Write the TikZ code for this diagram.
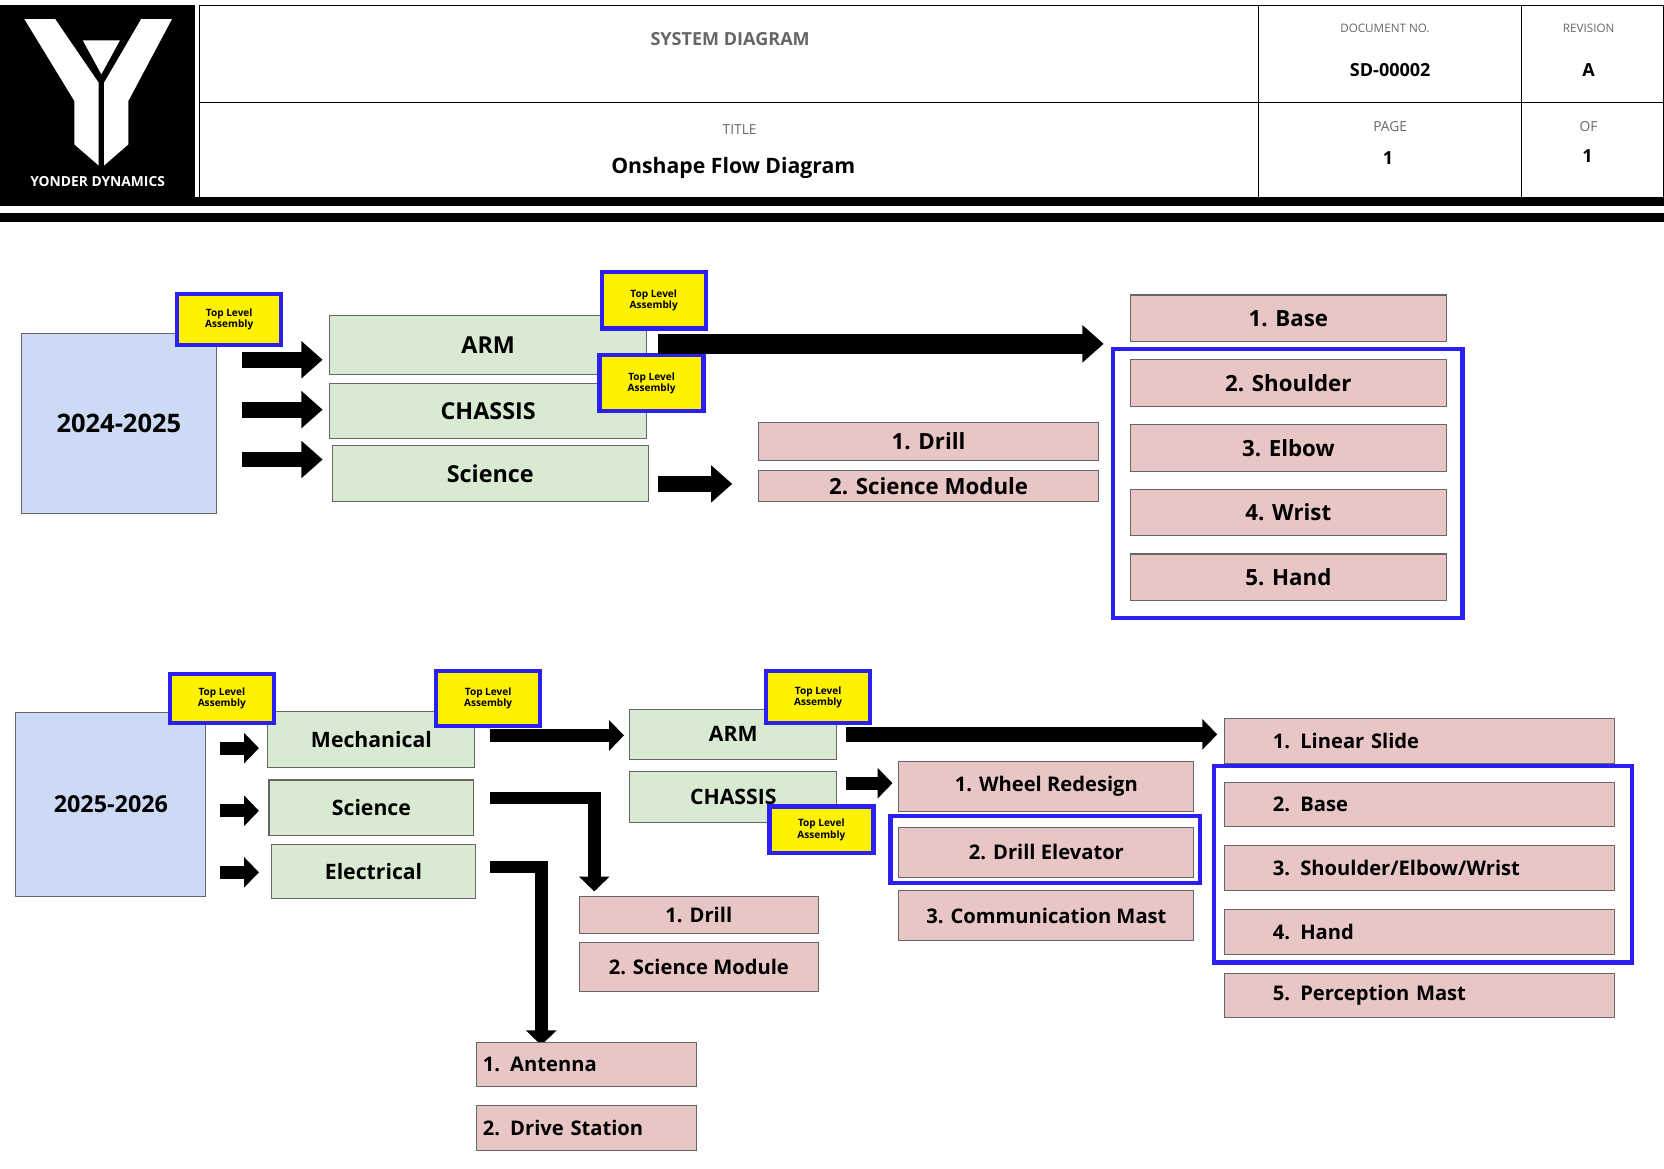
\documentclass[tikz,border=0pt]{standalone}
\usepackage{fontspec}
\setmainfont{Open Sans}
\usetikzlibrary{arrows.meta,positioning}
\definecolor{yearblue}{HTML}{CCDAF5}
\definecolor{subgreen}{HTML}{D9EAD3}
\definecolor{partpink}{HTML}{E8C6C6}
\definecolor{frameblue}{HTML}{2B1FF2}
\definecolor{headgray}{HTML}{666666}
\tikzset{
  box/.style={draw=black!60, line width=1pt, font=\bfseries, inner sep=0pt},
  year/.style={box, fill=yearblue, font=\bfseries\fontsize{24}{26}\selectfont},
  sub/.style={box, fill=subgreen, font=\bfseries\fontsize{22}{24}\selectfont},
  part/.style={box, fill=partpink, font=\bfseries\fontsize{21}{24}\selectfont},
  badge/.style={draw=frameblue, line width=4pt, fill=yellow, align=center,
    font=\bfseries\fontsize{9.5}{10.5}\selectfont, minimum width=98, minimum height=48},
  group/.style={draw=frameblue, line width=4pt},
  flow/.style={line width=15pt, -{Triangle[length=20pt,width=34pt]}},
  smallflow/.style={line width=12pt, -{Triangle[length=14pt,width=28pt]}},
  hlabel/.style={text=headgray, font=\fontsize{11}{13}\selectfont},
}
\begin{document}
\begin{tikzpicture}[x=1pt,y=-1pt]
\useasboundingbox (0,0) rectangle (1568,1101);
% title block
\fill[black] (0,5) rectangle (184,190);
\fill[white] (23,18) -- (52,18) -- (93,78) -- (93,156) -- (70,136) -- (70,95) -- cycle;
\fill[white] (162,18) -- (133,18) -- (98,78) -- (98,156) -- (121,136) -- (121,95) -- cycle;
\fill[white] (78,38) -- (113,38) -- (95.5,70) -- cycle;
\node[text=white, font=\bfseries\fontsize{13}{15}\selectfont] (logo) at (92,171) {YONDER DYNAMICS};
\draw[line width=1.2pt] (188,5) rectangle (1568,188);
\draw[line width=1pt] (188,97) -- (1568,97) (1186,5) -- (1186,188) (1434,5) -- (1434,188);
\fill[black] (0,186) rectangle (1568,194);
\fill[black] (0,201) rectangle (1568,209);
\node[text=headgray, font=\bfseries\fontsize{17}{19}\selectfont] (sys) at (688,37) {SYSTEM DIAGRAM};
\node[hlabel] (docl) at (1305,27) {DOCUMENT NO.};
\node[font=\bfseries\fontsize{17}{19}\selectfont] (doc) at (1310,66) {SD-00002};
\node[hlabel] (revl) at (1497,27) {REVISION};
\node[font=\bfseries\fontsize{17}{19}\selectfont] (rev) at (1497,66) {A};
\node[hlabel, font=\fontsize{13}{15}\selectfont] (titl) at (697,122) {TITLE};
\node[font=\bfseries\fontsize{20}{22}\selectfont] (title) at (691,158) {Onshape Flow Diagram};
\node[hlabel, font=\fontsize{13}{15}\selectfont] (pagel) at (1310,119) {PAGE};
\node[font=\bfseries\fontsize{17}{19}\selectfont] (page) at (1308,149) {1};
\node[hlabel, font=\fontsize{13}{15}\selectfont] (ofl) at (1497,119) {OF};
\node[font=\bfseries\fontsize{17}{19}\selectfont] (of) at (1496,147) {1};

% 2024-2025
\node[year, minimum width=184, minimum height=170] (y1) at (112,399) {2024-2025};
\node[sub, minimum width=299, minimum height=56] (arm1) at (460,325) {ARM};
\node[sub, minimum width=299, minimum height=52] (chassis1) at (460,387) {CHASSIS};
\node[sub, minimum width=298, minimum height=53] (sci1) at (462,446) {Science};
\node[badge] (b1) at (216,301) {Top Level\\Assembly};
\node[badge, minimum height=53] (b2) at (616,283) {Top Level\\Assembly};
\node[badge, minimum height=53] (b3) at (614,361) {Top Level\\Assembly};
\foreach \yy in {339,386,433}
  \draw[flow] (228,\yy) -- (304,\yy);
\coordinate (a1s) at (620,324);
\coordinate (a1e) at (1040,324);
\draw[flow, line width=19pt] (a1s) -- (a1e);
\coordinate (s1s) at (620,456);
\coordinate (s1e) at (690,456);
\draw[flow] (s1s) -- (s1e);
\node[part, minimum width=321, minimum height=36] (drill1) at (875,416) {1. Drill};
\node[part, minimum width=321, minimum height=29] (mod1) at (875,458) {2. Science Module};
\foreach \n/\t [count=\i from 0] in {base1/{1. Base}, shoulder1/{2. Shoulder}, elbow1/{3. Elbow}, wrist1/{4. Wrist}, hand1/{5. Hand}}
  \node[part, minimum width=298, minimum height=44] (\n) at (1214,300+61*\i) {\t};
\draw[group] (1049,329) rectangle (1378,582);

% 2025-2026
\node[year, font=\bfseries\fontsize{22}{24}\selectfont, minimum width=179, minimum height=174] (y2) at (104.5,758) {2025-2026};
\node[sub, font=\bfseries\fontsize{20}{22}\selectfont, minimum width=195, minimum height=53] (mech) at (350,697) {Mechanical};
\node[sub, font=\bfseries\fontsize{20}{22}\selectfont, minimum width=193, minimum height=52] (sci2) at (350,761) {Science};
\node[sub, font=\bfseries\fontsize{20}{22}\selectfont, minimum width=193, minimum height=51] (elec) at (352,821) {Electrical};
\node[sub, font=\bfseries\fontsize{20}{22}\selectfont, minimum width=195, minimum height=47] (arm2) at (691,692) {ARM};
\node[sub, font=\bfseries\fontsize{20}{22}\selectfont, minimum width=195, minimum height=48] (chassis2) at (691,751) {CHASSIS};
\node[badge, minimum height=46] (b4) at (209,658) {Top Level\\Assembly};
\node[badge, minimum height=52] (b5) at (460,658) {Top Level\\Assembly};
\node[badge, minimum height=49] (b6) at (771,657) {Top Level\\Assembly};
\node[badge, minimum height=44] (b7) at (774,782) {Top Level\\Assembly};
\foreach \yy in {705,764,822}
  \draw[smallflow] (207,\yy) -- (244,\yy);
\coordinate (m2s) at (462,693);
\coordinate (m2e) at (588,693);
\draw[smallflow] (m2s) -- (m2e);
\coordinate (a2s) at (797,692);
\coordinate (a2e) at (1147,692);
\draw[smallflow, line width=14pt] (a2s) -- (a2e);
\coordinate (c2s) at (797,738);
\coordinate (c2e) at (841,738);
\draw[smallflow] (c2s) -- (c2e);
\coordinate (sc2s) at (462,752);
\coordinate (sc2e) at (560,840);
\draw[smallflow] (sc2s) -| (sc2e);
\coordinate (el2s) at (462,817);
\coordinate (el2e) at (510,985);
\draw[smallflow] (el2s) -| (el2e);
\node[part, font=\bfseries\fontsize{19}{22}\selectfont, minimum width=225, minimum height=35] (drill2) at (658.5,862) {1. Drill};
\node[part, font=\bfseries\fontsize{19}{22}\selectfont, minimum width=225, minimum height=46] (mod2) at (658.5,911) {2. Science Module};
\node[part, font=\bfseries\fontsize{19}{22}\selectfont, minimum width=207, minimum height=41, text width=195, align=left] (ant) at (552.5,1003) {1. Antenna};
\node[part, font=\bfseries\fontsize{19}{22}\selectfont, minimum width=207, minimum height=42, text width=195, align=left] (drive) at (552.5,1063) {2. Drive Station};
\foreach \n/\t/\yy in {wheel/1. Wheel Redesign/741, elev/2. Drill Elevator/803, comm/3. Communication Mast/863}
  \node[part, font=\bfseries\fontsize{19}{22}\selectfont, minimum width=278, minimum height=47] (\n) at (986,\yy) {\t};
\draw[group] (839,769) rectangle (1131,832);
\foreach \n/\t [count=\i from 0] in {slide/{1. Linear Slide}, base2/{2. Base}, sew/{3. Shoulder/Elbow/Wrist}, hand2/{4. Hand}, mast/{5. Perception Mast}}
  \node[part, font=\bfseries\fontsize{19}{22}\selectfont, minimum width=367, minimum height=42, text width=276, align=left] (\n) at (1337.5,698+60*\i) {\t};
\draw[group] (1144,722) rectangle (1538,907);
\end{tikzpicture}
\end{document}
